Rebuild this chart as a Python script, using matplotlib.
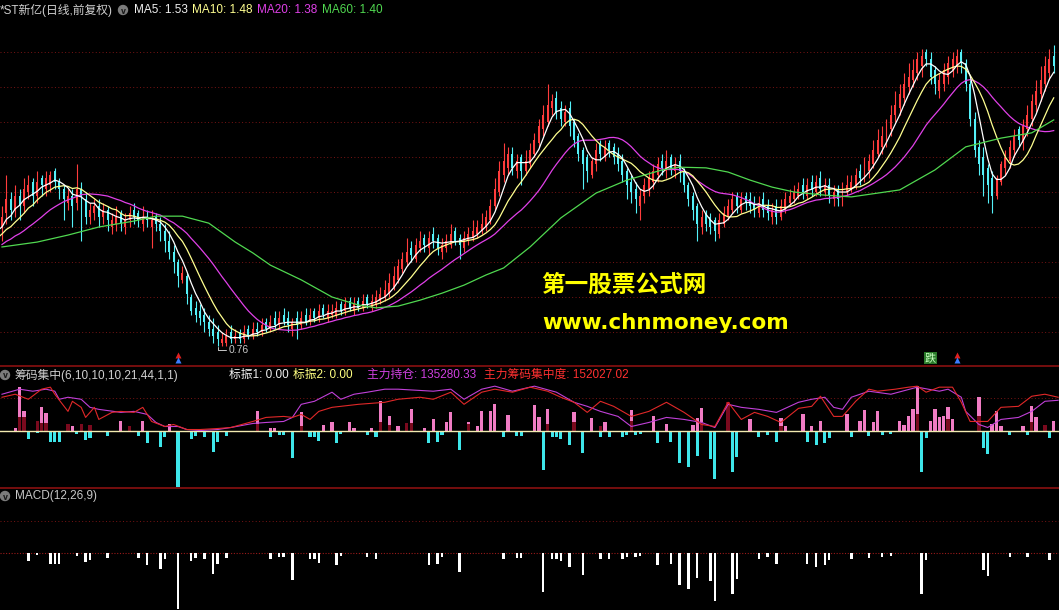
import numpy as np
import pandas as pd
import matplotlib
matplotlib.use("Agg")
import matplotlib.pyplot as plt
from matplotlib.patches import Circle

plt.rcParams['font.family'] = ['Liberation Sans', 'Noto Sans CJK SC', 'DejaVu Sans']

# daily prices in cents (visible window); prev_closes only feed the moving averages
prev_closes = [100, 102, 101, 103, 104, 102, 101, 103, 102, 102,
               105, 107, 106, 104, 108, 107, 110, 109, 111]
opens = [110, 114, 118, 115, 119, 116, 120, 123, 119, 124,
         121, 122, 126, 123, 121, 117, 119, 117, 121, 118,
         113, 114, 116, 113, 115, 110, 111, 114, 110, 112,
         115, 114, 111, 113, 110, 113, 111, 109, 106, 103,
         100, 95, 96, 90, 87, 86, 85, 83, 81, 80,
         77, 77, 80, 78, 80, 78, 81, 79, 81, 80,
         83, 81, 84, 82, 85, 84, 81, 84, 82, 85,
         83, 86, 84, 87, 84, 85, 85, 88, 86, 89,
         86, 89, 87, 90, 87, 88, 89, 90, 91, 93,
         95, 98, 100, 104, 101, 104, 107, 104, 108, 107,
         103, 104, 105, 109, 107, 104, 106, 107, 108, 109,
         110, 112, 116, 120, 125, 127, 131, 126, 130, 126,
         128, 131, 134, 138, 140, 144, 147, 144, 140, 144,
         140, 136, 132, 130, 125, 128, 134, 130, 134, 133,
         131, 129, 126, 123, 121, 116, 119, 121, 123, 125,
         129, 126, 130, 126, 129, 126, 122, 119, 116, 110,
         114, 113, 112, 108, 111, 113, 115, 119, 115, 119,
         118, 117, 114, 118, 116, 113, 116, 113, 115, 117,
         118, 119, 122, 119, 123, 120, 124, 120, 122, 118,
         121, 117, 120, 121, 122, 126, 124, 126, 128, 131,
         133, 135, 138, 142, 144, 147, 150, 152, 154, 156,
         160, 158, 155, 149, 151, 153, 155, 156, 160, 157,
         151, 141, 133, 130, 127, 124, 119, 123, 127, 129,
         132, 138, 134, 138, 141, 145, 148, 151, 154, 159]
highs = [116, 125, 120, 122, 121, 124, 125, 124, 126, 125,
         126, 126, 127, 124, 122, 121, 121, 128, 123, 120,
         117, 118, 118, 117, 116, 114, 116, 115, 114, 116,
         117, 115, 116, 115, 115, 114, 113, 111, 109, 105,
         101, 99, 97, 91, 89, 88, 87, 85, 84, 82,
         80, 81, 82, 81, 81, 82, 82, 83, 83, 84,
         84, 85, 86, 86, 87, 86, 84, 86, 86, 87,
         87, 87, 88, 88, 88, 88, 89, 89, 90, 90,
         90, 90, 91, 91, 91, 92, 93, 95, 97, 99,
         101, 103, 107, 106, 107, 109, 108, 109, 110, 108,
         107, 108, 111, 110, 108, 109, 110, 112, 112, 114,
         115, 118, 124, 129, 134, 133, 133, 131, 131, 132,
         134, 137, 141, 145, 151, 148, 149, 146, 145, 146,
         141, 137, 133, 131, 130, 134, 135, 135, 135, 134,
         133, 131, 127, 125, 123, 121, 124, 126, 128, 130,
         131, 132, 131, 130, 131, 127, 123, 120, 117, 115,
         115, 114, 113, 114, 116, 118, 120, 120, 120, 120,
         120, 119, 119, 120, 118, 117, 118, 118, 120, 121,
         122, 123, 124, 124, 125, 125, 126, 124, 124, 122,
         122, 123, 125, 125, 127, 128, 130, 131, 135, 138,
         139, 141, 145, 149, 151, 154, 157, 158, 160, 161,
         161, 160, 156, 154, 157, 159, 160, 161, 161, 158,
         152, 143, 135, 133, 128, 126, 125, 129, 132, 135,
         138, 139, 141, 145, 148, 152, 156, 159, 161, 162]
lows = [106, 111, 112, 113, 112, 114, 118, 116, 117, 119,
        119, 120, 121, 118, 112, 115, 110, 115, 106, 111,
        111, 112, 110, 111, 109, 108, 109, 109, 108, 110,
        111, 110, 109, 110, 104, 109, 106, 103, 101, 97,
        93, 94, 88, 85, 83, 82, 80, 79, 77, 76,
        76, 76, 77, 77, 77, 77, 78, 78, 79, 79,
        80, 80, 81, 81, 82, 80, 79, 78, 81, 82,
        82, 83, 83, 84, 83, 84, 84, 85, 85, 86,
        85, 86, 86, 87, 86, 87, 88, 89, 90, 92,
        94, 97, 99, 100, 100, 103, 103, 102, 104, 102,
        101, 103, 104, 105, 101, 103, 105, 106, 107, 108,
        109, 111, 115, 119, 123, 125, 125, 124, 122, 125,
        127, 130, 133, 136, 139, 142, 141, 139, 139, 136,
        133, 129, 121, 123, 124, 126, 129, 129, 130, 128,
        126, 123, 118, 117, 114, 112, 117, 119, 121, 123,
        125, 124, 125, 124, 123, 120, 116, 112, 106, 108,
        109, 108, 106, 107, 110, 112, 114, 114, 114, 115,
        114, 113, 113, 113, 112, 111, 111, 112, 114, 116,
        117, 118, 118, 118, 119, 119, 119, 119, 117, 116,
        116, 116, 119, 120, 121, 122, 123, 124, 127, 130,
        131, 133, 136, 140, 142, 145, 148, 150, 152, 153,
        156, 151, 148, 147, 149, 151, 153, 154, 154, 149,
        139, 130, 125, 119, 117, 114, 118, 122, 125, 127,
        130, 133, 132, 136, 139, 143, 146, 149, 152, 154]
closes = [113, 118, 115, 119, 116, 121, 122, 119, 123, 122,
          124, 125, 123, 121, 118, 119, 116, 121, 119, 113,
          115, 116, 113, 115, 112, 112, 113, 111, 112, 114,
          113, 112, 113, 112, 112, 111, 109, 106, 103, 100,
          96, 97, 91, 86, 85, 84, 83, 81, 79, 78,
          78, 79, 78, 79, 78, 80, 79, 81, 80, 82,
          81, 83, 82, 84, 83, 82, 83, 82, 84, 83,
          85, 84, 86, 85, 86, 86, 87, 86, 88, 87,
          88, 87, 89, 88, 89, 90, 91, 92, 94, 96,
          99, 101, 103, 102, 105, 106, 105, 107, 106, 104,
          105, 106, 108, 106, 105, 107, 108, 109, 110, 111,
          113, 116, 121, 126, 129, 131, 127, 129, 126, 129,
          132, 135, 139, 142, 145, 146, 143, 141, 143, 139,
          135, 131, 128, 126, 129, 132, 131, 133, 132, 130,
          128, 125, 122, 120, 118, 119, 122, 124, 126, 128,
          127, 129, 127, 128, 126, 122, 118, 115, 111, 113,
          111, 110, 109, 112, 114, 116, 118, 116, 118, 117,
          116, 115, 117, 115, 114, 115, 113, 116, 118, 119,
          120, 121, 120, 122, 121, 123, 121, 122, 119, 120,
          118, 121, 122, 123, 125, 124, 127, 129, 132, 135,
          136, 139, 142, 145, 148, 151, 153, 155, 158, 159,
          158, 153, 151, 152, 155, 157, 158, 159, 157, 151,
          141, 132, 128, 125, 122, 119, 124, 128, 130, 133,
          136, 135, 139, 142, 146, 149, 152, 156, 158, 156]

# MA60 (cents) at some days
ma60_idx = [0, 8, 15, 22, 30, 35, 41, 47, 53, 57, 61, 68, 75, 81, 85, 90, 95, 100, 105, 110,
            114, 120, 127, 135, 142, 150, 154, 160, 165, 170, 175, 180, 187, 193, 204, 212, 219, 227, 234, 239]
ma60_val = [104.3, 105.7, 107.7, 110, 111.7, 113.1, 113.1, 111.1, 105.7, 102.6,
            99.1, 94.9, 90, 87.7, 86.9, 87.4, 89.1, 91.1, 93.4, 96.3,
            98.3, 104.3, 112.6, 119.7, 123.4, 126.3, 127.1, 126.9, 125.7, 123.4,
            121.4, 120, 119.1, 118.6, 120.6, 126.3, 132.9, 135.4, 136.9, 140.6]
grid_prices = [80, 90, 100, 110, 120, 130, 140, 150, 160]

# 筹码集中 panel
pink_idx = [3, 4, 5, 9, 10, 16, 27, 32, 38, 58, 61, 62, 68, 73, 75, 79, 80, 84, 86, 88, 90,
            93, 96, 98, 101, 102, 106, 108, 109, 111, 112, 115, 121, 122, 124, 130, 134, 137, 143,
            148, 151, 157, 158, 159, 170, 177, 178,
            182, 184, 186, 192, 195, 196, 198, 199, 204, 205, 206, 207, 208, 211, 212, 213, 214,
            215, 216, 222, 225, 226, 227, 232, 234, 235, 237, 239]
pink_val = [3, 43, 19, 23, 17, 4, 9, 9, 6, 19, 3, 3, 18, 5, 8, 8, 3, 3, 29, 14, 4,
            21, 3, 11, 8, 18, 8, 4, 19, 19, 26, 15, 25, 13, 21, 18, 12, 8, 20,
            14, 6, 5, 12, 22, 11, 12, 4,
            16, 4, 9, 16, 9, 20, 8, 19, 9, 5, 14, 21, 44, 9, 21, 13, 14,
            23, 11, 33, 6, 19, 4, 4, 24, 13, 5, 9]
dark_idx = [4, 5, 8, 9, 10, 15, 18, 20, 29, 58, 68, 86, 88, 92, 93, 106, 124, 130, 136, 143,
            159, 165, 177, 208, 215, 222, 234, 237]
dark_val = [13, 13, 9, 7, 7, 6, 6, 5, 4, 6, 4, 8, 5, 7, 7, 6, 6, 8, 4, 9,
            8, 28, 4, 16, 11, 14, 8, 5]
dn_idx = [6, 8, 11, 12, 13, 17, 19, 20, 24, 31, 33, 36, 37, 40, 43, 44, 46, 48, 49, 51,
          61, 63, 64, 66, 70, 71, 72, 76, 77, 83, 85,
          97, 99, 100, 104, 114, 117, 118, 123, 125, 126, 127, 129, 132, 136, 138, 141, 142,
          144, 145, 149, 152, 154, 156, 158, 161, 162, 166, 167, 172, 174, 176,
          183, 185, 187, 188, 193, 197, 200, 202, 209, 210, 223, 224, 229, 233, 238]
dn_val = [8, 2, 11, 11, 11, 3, 9, 7, 5, 5, 12, 16, 6, 56, 8, 5, 6, 21, 11, 5,
          6, 4, 4, 27, 6, 6, 10, 12, 3, 4, 6,
          12, 11, 4, 19, 6, 5, 5, 39, 6, 6, 8, 14, 22, 6, 6, 6, 4,
          4, 3, 12, 11, 32, 36, 25, 28, 48, 41, 26, 6, 4, 11,
          11, 14, 12, 7, 6, 5, 4, 3, 41, 7, 17, 23, 4, 4, 7]
mag_idx = [0, 4, 7, 10, 12, 13, 15, 18, 20, 22, 27, 30, 33, 35, 37, 40, 42, 45, 49, 52,
           57, 60, 64, 66, 68, 71, 75, 77, 80, 83, 87, 90, 98, 102, 105, 109, 112, 116, 121, 126,
           130, 133, 136, 140, 143, 147, 151, 155, 159, 162, 165, 168, 172, 176, 181, 184, 187, 189,
           191, 193, 197, 202, 208, 213, 215, 218, 219, 222, 224, 227, 231, 234, 237, 240]
mag_val = [36, 41, 39, 41, 39, 31, 33, 31, 23, 21, 18, 19, 16, 8, 4, 4, 1, 0, 1, 3,
           7, 8, 9, 13, 26, 29, 38, 31, 36, 38, 41, 41, 39, 41, 31, 41, 44, 39, 44, 38,
           28, 24, 19, 14, 4, 8, 13, 11, 8, 3, 26, 23, 21, 18, 28, 31, 33, 23,
           21, 33, 39, 36, 43, 39, 41, 33, 19, 6, 3, 11, 13, 19, 29, 30]
red_idx = [0, 3, 6, 9, 11, 12, 15, 16, 18, 19, 21, 22, 25, 27, 30, 32, 34, 37, 39, 42,
           45, 49, 52, 57, 60, 64, 66, 68, 70, 72, 75, 77, 81, 87, 90, 95, 98, 102, 105, 109,
           112, 116, 120, 124, 127, 130, 133, 136, 139, 143, 147, 151, 155, 159, 162, 165, 168, 171,
           174, 177, 181, 184, 186, 189, 191, 194, 197, 199, 203, 206, 208, 210, 213, 216, 218, 220,
           224, 227, 231, 234, 237, 240]
red_val = [33, 36, 31, 41, 43, 36, 19, 29, 23, 13, 23, 11, 18, 19, 18, 23, 9, 4, 6, 1,
           1, 2, 3, 9, 13, 14, 13, 16, 11, 19, 23, 24, 26, 28, 31, 33, 31, 38, 26, 38,
           41, 38, 43, 39, 33, 28, 18, 29, 24, 14, 19, 28, 18, 6, 4, 28, 11, 18,
           14, 8, 22, 24, 34, 14, 14, 29, 41, 39, 41, 43, 44, 38, 43, 43, 28, 9,
           9, 23, 24, 34, 36, 33]

# MACD histogram (same days and sizes as the cyan bars above)
macd_idx = dn_idx
macd_val = dn_val

arrow_idx = [40, 217]
fall_idx = [211]

W, H = 1059, 610
BG = 'black'
GRID = '#7a1414'
RED = '#ff3c3c'
CYAN = '#54f0f8'


def fpos(x, y):
    return x / W, 1 - y / H


fig = plt.figure(figsize=(W / 100, H / 100), dpi=100, facecolor=BG)
ax1 = fig.add_axes([0, 0.4, 1, 0.6])
ax2 = fig.add_axes([0, 0.2, 1, 0.2])
ax3 = fig.add_axes([0, 0.0, 1, 0.2])
for ax in (ax1, ax2, ax3):
    ax.set_facecolor(BG)
    ax.set_xlim(-0.45, 240.2)
    ax.set_xticks([])
    ax.set_yticks([])
    for s in ax.spines.values():
        s.set_visible(False)
for ax in (ax2, ax3):
    ax.spines['top'].set_visible(True)
    ax.spines['top'].set_color('#8a1010')
    ax.spines['top'].set_linewidth(1.2)

# ---- price panel
ax1.set_ylim(70.29, 174.86)
for g in grid_prices:
    ax1.axhline(g, color=GRID, lw=0.7, ls=(0, (1, 2.5)), zorder=0)

o = np.array(opens, float)
h = np.array(highs, float)
l = np.array(lows, float)
c = np.array(closes, float)
x = np.arange(len(c))
up = c >= o
ax1.vlines(x[up], l[up], h[up], color=RED, lw=0.8, zorder=2)
ax1.vlines(x[~up], l[~up], h[~up], color=CYAN, lw=0.8, zorder=2)
ax1.bar(x[up], (c - o)[up], bottom=o[up], width=0.45, color=RED, zorder=2)
ax1.bar(x[~up], (c - o)[~up], bottom=o[~up], width=0.45, color=CYAN, zorder=2)

allc = pd.Series(prev_closes + closes, dtype=float)
xa = np.arange(-len(prev_closes), len(closes))
for n, col in ((20, '#e040e8'), (10, '#ffff90'), (5, 'white')):
    ma = allc.rolling(n).mean()
    ax1.plot(xa, ma, color=col, lw=0.9, zorder=3)
ax1.plot(ma60_idx, ma60_val, color='#50d850', lw=0.9, zorder=3)

imin = int(np.argmin(l))
ax1.annotate(f'{l[imin] / 100:.2f}', xy=(imin, l[imin]), xytext=(11, -4),
             textcoords='offset pixels', color='#c8c8c8', fontsize=7.5,
             ha='left', va='center',
             arrowprops=dict(arrowstyle='-', color='#c8c8c8', lw=0.7,
                             connectionstyle='angle,angleA=180,angleB=90,rad=0',
                             shrinkA=0, shrinkB=1))

tr = ax1.get_xaxis_transform()
ax1.plot(arrow_idx, [0.030] * len(arrow_idx), '^', color='#e02020', ms=4.5, transform=tr, mec='none')
ax1.plot(arrow_idx, [0.016] * len(arrow_idx), '^', color='#3a7cff', ms=4.5, transform=tr, mec='none')
for i in fall_idx:
    ax1.text(i, 0.022, '跌', transform=tr, ha='center', va='center', color='#c8ffc0',
             fontsize=8, bbox=dict(boxstyle='square,pad=0.1', fc='#2a7a2a', ec='none'))

# ---- 筹码集中 panel
ax2.set_ylim(-57, 64)
ax2.axhline(32, color=GRID, lw=0.7, ls=(0, (1, 2.5)), zorder=0)
ax2.bar(pink_idx, pink_val, width=0.75, color='#f07cc4', zorder=1)
ax2.bar(dark_idx, dark_val, width=0.75, color='#7a0a1e', zorder=2)
ax2.bar(dn_idx, -np.array(dn_val), width=0.7, color='#3ee6ea', zorder=1)
ax2.axhline(0, color='#f2eab0', lw=1.0, zorder=3)
ax2.plot(mag_idx, mag_val, color='#c040d8', lw=0.8, zorder=4)
ax2.plot(red_idx, red_val, color='#e02828', lw=0.8, zorder=4)

# ---- MACD panel
ax3.set_ylim(-57, 65)
ax3.axhline(32, color=GRID, lw=0.7, ls=(0, (1, 2.5)), zorder=0)
ax3.axhline(0, color='#9a1a1a', lw=0.8, ls=(0, (1, 1.5)), zorder=0)
ax3.bar(macd_idx, -np.array(macd_val), width=0.55, color='white', zorder=2)


# ---- header texts
def icon(px, py):
    fig.add_artist(Circle((px / 100, (H - py) / 100), 0.045, transform=fig.dpi_scale_trans,
                          color='#7c7c7c'))
    fig.text(*fpos(px, py + 1), 'v', ha='center', va='center', fontsize=5.5,
             color='#1a1a1a', fontweight='bold', family='DejaVu Sans')


fs = 8.5
fig.text(*fpos(0, 10), '*ST新亿(日线,前复权)', color='#d0d0d0', fontsize=fs, va='center')
icon(123, 10)
fig.text(*fpos(134, 10), 'MA5: 1.53', color='#f0f0f0', fontsize=fs, va='center')
fig.text(*fpos(192, 10), 'MA10: 1.48', color='#ffff90', fontsize=fs, va='center')
fig.text(*fpos(257, 10), 'MA20: 1.38', color='#e040e8', fontsize=fs, va='center')
fig.text(*fpos(322, 10), 'MA60: 1.40', color='#50d850', fontsize=fs, va='center')

icon(5, 375)
fig.text(*fpos(14, 375), '筹码集中(6,10,10,10,21,44,1,1)', color='#d0d0d0', fontsize=fs, va='center')
fig.text(*fpos(229, 375), '标振1: 0.00', color='#f0f0f0', fontsize=fs, va='center')
fig.text(*fpos(293, 375), '标振2: 0.00', color='#ffff80', fontsize=fs, va='center')
fig.text(*fpos(367, 375), '主力持仓: 135280.33', color='#d040e0', fontsize=fs, va='center')
fig.text(*fpos(484, 375), '主力筹码集中度: 152027.02', color='#ff3030', fontsize=fs, va='center')

icon(5, 496)
fig.text(*fpos(15, 496), 'MACD(12,26,9)', color='#c8c8c8', fontsize=fs, va='center')

# watermark
fig.text(*fpos(541, 285), '第一股票公式网', color='#ffff00', fontsize=17, fontweight='bold',
         va='center', family=['Noto Sans CJK SC'])
fig.text(*fpos(542, 323), 'www.chnmoney.com', color='#ffff00', fontsize=15.5, fontweight='bold',
         va='center', family='DejaVu Sans')

fig.savefig('out.png', dpi=100, facecolor=BG)
